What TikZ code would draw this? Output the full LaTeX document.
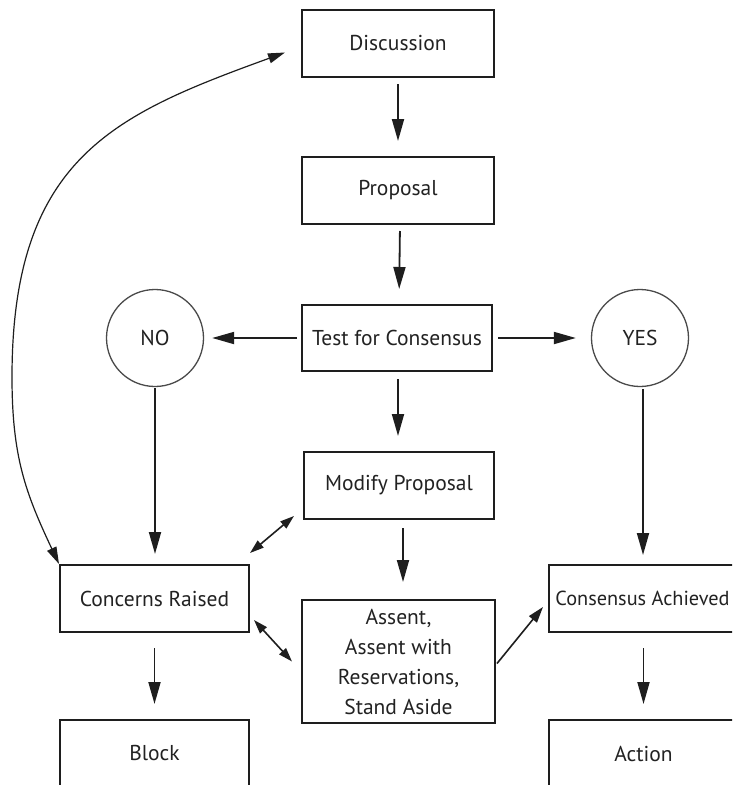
\documentclass[tikz,border=0pt]{standalone}
\usepackage{fontspec}
\setmainfont{PT Sans}
\usetikzlibrary{arrows.meta}
\definecolor{ink}{HTML}{1E1E1E}
\definecolor{txt}{HTML}{222222}
\definecolor{ringcol}{HTML}{4A4A4A}
\begin{document}
\begin{tikzpicture}[x=1pt,y=-1pt,
  box/.style={draw=ink,line width=2pt,minimum width=192pt,minimum height=67pt,inner sep=0pt,text=txt,font=\fontsize{21.5}{30}\selectfont,align=center},
  ring/.style={circle,draw=ringcol,line width=1.3pt,minimum size=97pt,inner sep=0pt,text=txt,font=\fontsize{21.5}{26}\selectfont},
  arr/.style={draw=ink,line width=1.8pt,-{Triangle[length=22pt,width=12pt]}},
  darr/.style={draw=ink,line width=1.6pt,{Triangle[length=14pt,width=9pt]}-{Triangle[length=14pt,width=9pt]}},
  curvearr/.style={draw=ink,line width=1.2pt,{Triangle[length=17pt,width=10pt]}-{Triangle[length=17pt,width=10pt]}}
]
\useasboundingbox (0,0) rectangle (732,785);
\fill[white] (0,0) rectangle (732,785);
\clip (0,0) rectangle (732,785);

\node[box] (disc) at (398,43.5) {Discussion};
\node[box] (prop) at (398,190.5) {Proposal};
\node[box,minimum width=190pt,minimum height=66pt] (test) at (397,338) {Test for Consensus};
\node[box,minimum width=190pt] (mod) at (399,485.5) {Modify Proposal};
\node[box,minimum width=193pt,minimum height=123pt] (assent) at (398.5,661.5) {Assent,\\Assent with\\Reservations,\\Stand Aside};
\node[box,minimum width=189pt] (conc) at (154.5,598.5) {Concerns Raised};
\node[box,minimum width=189pt] (block) at (154.5,753.5) {Block};
\node[box,minimum width=189pt,font=\fontsize{20.3}{26}\selectfont] (ca) at (643.5,598.5) {\hspace*{-2pt}Consensus Achieved};
\node[box,minimum width=189pt] (action) at (643.5,753.5) {Action};
\node[ring] (no) at (155,338) {NO};
\node[ring] (yes) at (640,338) {YES};

\draw[arr,shorten <=6pt,shorten >=15pt] (disc) -- (prop);
\draw[arr,shorten <=6pt,shorten >=15pt] ([xshift=2pt]prop.south) -- ([xshift=2pt]test.north);
\draw[arr,shorten <=7pt,shorten >=15pt] ([xshift=1pt]test.south) -- ([xshift=-1pt]mod.south |- mod.north);
\draw[arr,shorten <=8pt,shorten >=17pt] ([xshift=4pt]mod.south) -- ([xshift=4.5pt]assent.north);
\draw[arr,shorten <=4pt,shorten >=8pt] (test) -- (no);
\draw[arr,shorten <=5pt,shorten >=15pt] (test) -- (yes);
\draw[arr,shorten <=1pt,shorten >=10pt] (no) -- (no |- conc.north);
\draw[arr,shorten <=2pt,shorten >=9pt] ([xshift=3pt]yes.south) -- ([xshift=-0.5pt]ca.north);
\draw[arr,shorten <=15pt,shorten >=15pt] (conc) -- (block);
\draw[arr,shorten <=15pt,shorten >=15pt] (ca) -- (action);

\draw[darr] ([yshift=11pt]conc.north east) -- ([xshift=-9pt,yshift=4pt]mod.south west);
\draw[darr] ([xshift=4pt,yshift=13pt]conc.south east) -- ([xshift=-9pt]assent.west);
\draw[arr,line width=1.6pt,-{Triangle[length=16pt,width=10pt]}] ([xshift=1pt,yshift=-2pt]assent.east) -- ([xshift=-5pt,yshift=-8.5pt]ca.west);

\draw[curvearr] (conc.north west) .. controls (25.6,493) and (12,457) .. (12,377)
  .. controls (12,157) and (116,114) .. ([xshift=-16pt,yshift=-9pt]disc.west);
\end{tikzpicture}
\end{document}
